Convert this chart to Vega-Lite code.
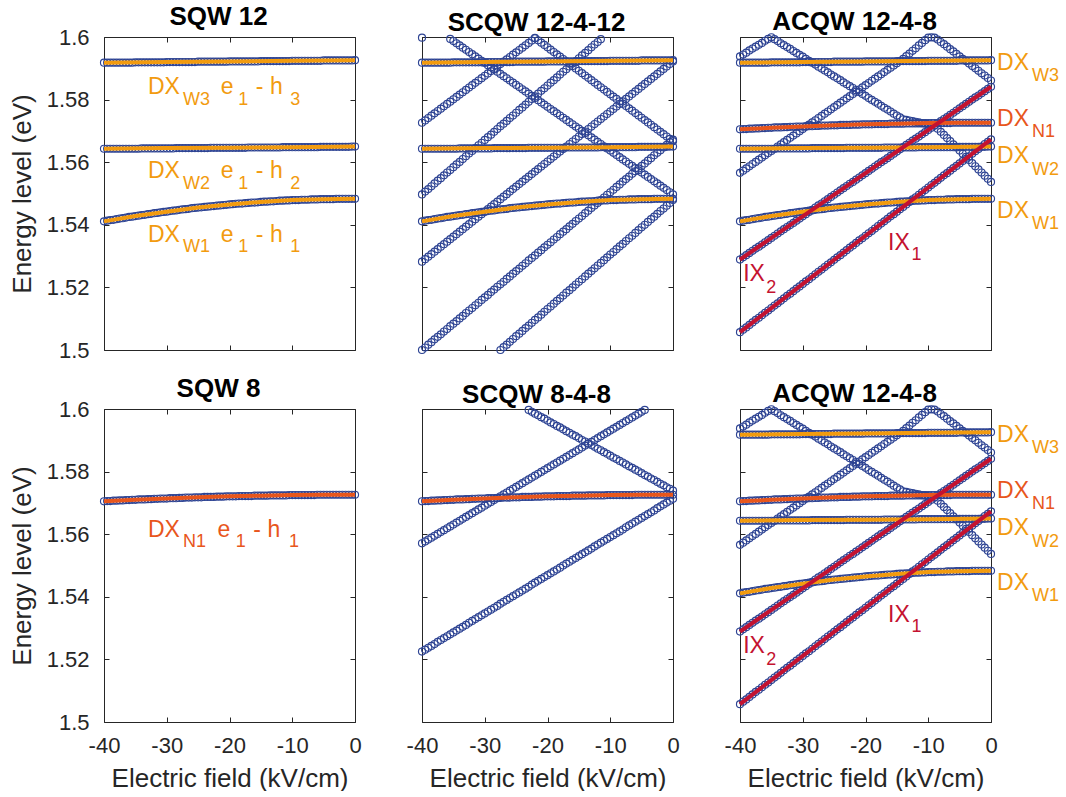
{
"$schema":"https://vega.github.io/schema/vega-lite/v6.json",
"padding":{"left":9,"top":4,"right":0,"bottom":0},
"usermeta":{"embedOptions":{"actions":false}},
"config":{
"view":{"stroke":null},
"font":"Liberation Sans",
"axis":{"domainColor":"#262626","domainWidth":1,"tickColor":"#262626","tickWidth":1,"tickSize":-5,"labelColor":"#262626","labelFont":"Liberation Sans","labelFontSize":22,"titleColor":"#262626","titleFont":"Liberation Sans","titleFontSize":26,"titleFontWeight":"normal","grid":false,"labelFlush":false,"labelOverlap":false},
"axisBottom":{"labelPadding":18,"titlePadding":9},
"axisLeft":{"labelPadding":20,"titlePadding":11},
"point":{"shape":"circle","filled":false,"size":50,"strokeWidth":1.15,"color":"#2D4393","opacity":1},
"title":{"font":"Liberation Sans","fontSize":26,"fontWeight":"bold","color":"#000000","offset":-4,"baseline":"alphabetic","anchor":"middle","frame":"group","dx":-11}
},
"datasets":{
"circ":[
{"g":"W","b":"W3","x":[-40,-39.5,-39,-38.5,-38,-37.5,-37,-36.5,-36,-35.5,-35,-34.5,-34,-33.5,-33,-32.5,-32,-31.5,-31,-30.5,-30,-29.5,-29,-28.5,-28,-27.5,-27,-26.5,-26,-25.5,-25,-24.5,-24,-23.5,-23,-22.5,-22,-21.5,-21,-20.5,-20,-19.5,-19,-18.5,-18,-17.5,-17,-16.5,-16,-15.5,-15,-14.5,-14,-13.5,-13,-12.5,-12,-11.5,-11,-10.5,-10,-9.5,-9,-8.5,-8,-7.5,-7,-6.5,-6,-5.5,-5,-4.5,-4,-3.5,-3,-2.5,-2,-1.5,-1,-0.5,0],
"y":[1.5918,1.5918,1.5918,1.5918,1.5918,1.5918,1.5918,1.5918,1.5918,1.5918,1.5919,1.5919,1.5919,1.5919,1.5919,1.5919,1.5919,1.5919,1.5919,1.5919,1.592,1.592,1.592,1.592,1.592,1.592,1.592,1.592,1.592,1.592,1.5921,1.5921,1.5921,1.5921,1.5921,1.5921,1.5921,1.5921,1.5921,1.5921,1.5922,1.5922,1.5922,1.5922,1.5922,1.5922,1.5922,1.5922,1.5922,1.5922,1.5923,1.5923,1.5923,1.5923,1.5923,1.5923,1.5923,1.5923,1.5923,1.5923,1.5924,1.5924,1.5924,1.5924,1.5924,1.5924,1.5924,1.5924,1.5924,1.5924,1.5925,1.5925,1.5925,1.5925,1.5925,1.5925,1.5925,1.5925,1.5925,1.5925,1.5926]},
{"g":"W","b":"W2","x":[-40,-39.5,-39,-38.5,-38,-37.5,-37,-36.5,-36,-35.5,-35,-34.5,-34,-33.5,-33,-32.5,-32,-31.5,-31,-30.5,-30,-29.5,-29,-28.5,-28,-27.5,-27,-26.5,-26,-25.5,-25,-24.5,-24,-23.5,-23,-22.5,-22,-21.5,-21,-20.5,-20,-19.5,-19,-18.5,-18,-17.5,-17,-16.5,-16,-15.5,-15,-14.5,-14,-13.5,-13,-12.5,-12,-11.5,-11,-10.5,-10,-9.5,-9,-8.5,-8,-7.5,-7,-6.5,-6,-5.5,-5,-4.5,-4,-3.5,-3,-2.5,-2,-1.5,-1,-0.5,0],
"y":[1.5643,1.5643,1.5643,1.5643,1.5643,1.5643,1.5643,1.5643,1.5643,1.5643,1.5643,1.5643,1.5644,1.5644,1.5644,1.5644,1.5644,1.5644,1.5644,1.5644,1.5644,1.5644,1.5644,1.5645,1.5645,1.5645,1.5645,1.5645,1.5645,1.5645,1.5645,1.5645,1.5645,1.5645,1.5646,1.5646,1.5646,1.5646,1.5646,1.5646,1.5646,1.5646,1.5646,1.5646,1.5646,1.5646,1.5647,1.5647,1.5647,1.5647,1.5647,1.5647,1.5647,1.5647,1.5647,1.5647,1.5647,1.5648,1.5648,1.5648,1.5648,1.5648,1.5648,1.5648,1.5648,1.5648,1.5648,1.5648,1.5648,1.5649,1.5649,1.5649,1.5649,1.5649,1.5649,1.5649,1.5649,1.5649,1.5649,1.565,1.565]},
{"g":"W","b":"W1","x":[-40,-39.5,-39,-38.5,-38,-37.5,-37,-36.5,-36,-35.5,-35,-34.5,-34,-33.5,-33,-32.5,-32,-31.5,-31,-30.5,-30,-29.5,-29,-28.5,-28,-27.5,-27,-26.5,-26,-25.5,-25,-24.5,-24,-23.5,-23,-22.5,-22,-21.5,-21,-20.5,-20,-19.5,-19,-18.5,-18,-17.5,-17,-16.5,-16,-15.5,-15,-14.5,-14,-13.5,-13,-12.5,-12,-11.5,-11,-10.5,-10,-9.5,-9,-8.5,-8,-7.5,-7,-6.5,-6,-5.5,-5,-4.5,-4,-3.5,-3,-2.5,-2,-1.5,-1,-0.5,0],
"y":[1.5411,1.5413,1.5415,1.5416,1.5418,1.542,1.5421,1.5423,1.5425,1.5426,1.5428,1.5429,1.5431,1.5432,1.5434,1.5435,1.5437,1.5438,1.544,1.5441,1.5442,1.5444,1.5445,1.5446,1.5448,1.5449,1.545,1.5451,1.5453,1.5454,1.5455,1.5456,1.5457,1.5458,1.5459,1.546,1.5461,1.5462,1.5463,1.5464,1.5465,1.5466,1.5467,1.5468,1.5468,1.5469,1.547,1.5471,1.5471,1.5472,1.5473,1.5474,1.5474,1.5475,1.5475,1.5476,1.5477,1.5477,1.5478,1.5478,1.5479,1.5479,1.5479,1.548,1.548,1.548,1.5481,1.5481,1.5481,1.5482,1.5482,1.5482,1.5482,1.5482,1.5483,1.5483,1.5483,1.5483,1.5483,1.5483,1.5483]},
{"g":"N","b":"N1","x":[-40,-39.5,-39,-38.5,-38,-37.5,-37,-36.5,-36,-35.5,-35,-34.5,-34,-33.5,-33,-32.5,-32,-31.5,-31,-30.5,-30,-29.5,-29,-28.5,-28,-27.5,-27,-26.5,-26,-25.5,-25,-24.5,-24,-23.5,-23,-22.5,-22,-21.5,-21,-20.5,-20,-19.5,-19,-18.5,-18,-17.5,-17,-16.5,-16,-15.5,-15,-14.5,-14,-13.5,-13,-12.5,-12,-11.5,-11,-10.5,-10,-9.5,-9,-8.5,-8,-7.5,-7,-6.5,-6,-5.5,-5,-4.5,-4,-3.5,-3,-2.5,-2,-1.5,-1,-0.5,0],
"y":[1.5705,1.5706,1.5706,1.5707,1.5707,1.5708,1.5708,1.5709,1.5709,1.571,1.571,1.5711,1.5711,1.5711,1.5712,1.5712,1.5713,1.5713,1.5714,1.5714,1.5714,1.5715,1.5715,1.5715,1.5716,1.5716,1.5717,1.5717,1.5717,1.5718,1.5718,1.5718,1.5719,1.5719,1.5719,1.5719,1.572,1.572,1.572,1.5721,1.5721,1.5721,1.5721,1.5722,1.5722,1.5722,1.5722,1.5722,1.5723,1.5723,1.5723,1.5723,1.5723,1.5724,1.5724,1.5724,1.5724,1.5724,1.5724,1.5725,1.5725,1.5725,1.5725,1.5725,1.5725,1.5725,1.5725,1.5725,1.5726,1.5726,1.5726,1.5726,1.5726,1.5726,1.5726,1.5726,1.5726,1.5726,1.5726,1.5726,1.5726]},
{"g":"S12","b":"a","x":[-40],"y":[1.5998]},
{"g":"S12","b":"b","x":[-35.5,-35,-34.5,-34,-33.5,-33,-32.5,-32,-31.5,-31,-30.5,-30,-29.5,-29,-28.5,-28,-27.5,-27,-26.5,-26,-25.5,-25,-24.5,-24,-23.5,-23,-22.5,-22,-21.5,-21,-20.5,-20,-19.5,-19,-18.5,-18,-17.5,-17,-16.5,-16,-15.5,-15,-14.5,-14,-13.5,-13,-12.5,-12,-11.5,-11,-10.5,-10,-9.5,-9,-8.5,-8,-7.5,-7,-6.5,-6,-5.5,-5,-4.5,-4,-3.5,-3,-2.5,-2,-1.5,-1,-0.5,0],
"y":[1.5994,1.5987,1.598,1.5973,1.5966,1.5959,1.5952,1.5945,1.5938,1.5931,1.5924,1.5917,1.591,1.5903,1.5896,1.5889,1.5882,1.5875,1.5868,1.5861,1.5854,1.5847,1.584,1.5833,1.5826,1.5819,1.5812,1.5805,1.5798,1.5791,1.5784,1.5777,1.577,1.5763,1.5756,1.5749,1.5742,1.5735,1.5728,1.5721,1.5714,1.5707,1.57,1.5693,1.5686,1.5679,1.5672,1.5665,1.5658,1.5651,1.5644,1.5637,1.563,1.5623,1.5616,1.5609,1.5602,1.5595,1.5588,1.5581,1.5574,1.5567,1.556,1.5553,1.5546,1.5539,1.5532,1.5525,1.5518,1.5511,1.5504,1.5497]},
{"g":"S12","b":"c","x":[-22,-21.5,-21,-20.5,-20,-19.5,-19,-18.5,-18,-17.5,-17,-16.5,-16,-15.5,-15,-14.5,-14,-13.5,-13,-12.5,-12,-11.5,-11,-10.5,-10,-9.5,-9,-8.5,-8,-7.5,-7,-6.5,-6,-5.5,-5,-4.5,-4,-3.5,-3,-2.5,-2,-1.5,-1,-0.5,0],
"y":[1.5997,1.59895,1.5982,1.59745,1.5967,1.59595,1.5952,1.59445,1.5937,1.59295,1.5922,1.59145,1.5907,1.58995,1.5892,1.58845,1.5877,1.58695,1.5862,1.58545,1.5847,1.58395,1.5832,1.58245,1.5817,1.58095,1.5802,1.57945,1.5787,1.57795,1.5772,1.57645,1.5757,1.57495,1.5742,1.57345,1.5727,1.57195,1.5712,1.57045,1.5697,1.56895,1.5682,1.56745,1.5667]},
{"g":"S12","b":"d","x":[-40,-39.5,-39,-38.5,-38,-37.5,-37,-36.5,-36,-35.5,-35,-34.5,-34,-33.5,-33,-32.5,-32,-31.5,-31,-30.5,-30,-29.5,-29,-28.5,-28,-27.5,-27,-26.5,-26,-25.5,-25,-24.5,-24,-23.5,-23,-22.5,-22],
"y":[1.5726,1.57335,1.5741,1.57485,1.5756,1.57635,1.5771,1.57785,1.5786,1.57935,1.5801,1.58085,1.5816,1.58235,1.5831,1.58385,1.5846,1.58535,1.5861,1.58685,1.5876,1.58835,1.5891,1.58985,1.5906,1.59135,1.5921,1.59285,1.5936,1.59435,1.5951,1.59585,1.5966,1.59735,1.5981,1.59885,1.5996]},
{"g":"S12","b":"e","x":[-40,-39.5,-39,-38.5,-38,-37.5,-37,-36.5,-36,-35.5,-35,-34.5,-34,-33.5,-33,-32.5,-32,-31.5,-31,-30.5,-30,-29.5,-29,-28.5,-28,-27.5,-27,-26.5,-26,-25.5,-25,-24.5,-24,-23.5,-23,-22.5,-22,-21.5,-21,-20.5,-20,-19.5,-19,-18.5,-18,-17.5,-17,-16.5,-16,-15.5,-15,-14.5,-14,-13.5,-13,-12.5,-12,-11.5],
"y":[1.5497,1.5506,1.5514,1.5523,1.5532,1.5541,1.5549,1.5558,1.5567,1.5575,1.5584,1.5593,1.5601,1.561,1.5619,1.5628,1.5636,1.5645,1.5654,1.5662,1.5671,1.568,1.5688,1.5697,1.5706,1.5715,1.5723,1.5732,1.5741,1.5749,1.5758,1.5767,1.5775,1.5784,1.5793,1.5802,1.581,1.5819,1.5828,1.5836,1.5845,1.5854,1.5862,1.5871,1.588,1.5889,1.5897,1.5906,1.5915,1.5923,1.5932,1.5941,1.5949,1.5958,1.5967,1.5976,1.5984,1.5993]},
{"g":"S12","b":"f","x":[-40,-39.5,-39,-38.5,-38,-37.5,-37,-36.5,-36,-35.5,-35,-34.5,-34,-33.5,-33,-32.5,-32,-31.5,-31,-30.5,-30,-29.5,-29,-28.5,-28,-27.5,-27,-26.5,-26,-25.5,-25,-24.5,-24,-23.5,-23,-22.5,-22,-21.5,-21,-20.5,-20,-19.5,-19,-18.5,-18,-17.5,-17,-16.5,-16,-15.5,-15,-14.5,-14,-13.5,-13,-12.5,-12,-11.5,-11,-10.5,-10,-9.5,-9,-8.5,-8,-7.5,-7,-6.5,-6,-5.5,-5,-4.5,-4,-3.5,-3,-2.5,-2,-1.5,-1,-0.5,0],
"y":[1.5282,1.529,1.5298,1.5306,1.5314,1.5322,1.533,1.5338,1.5346,1.5354,1.5362,1.537,1.5378,1.5386,1.5394,1.5402,1.541,1.5418,1.5426,1.5434,1.5442,1.545,1.5458,1.5466,1.5474,1.5482,1.549,1.5498,1.5506,1.5514,1.5522,1.553,1.5538,1.5546,1.5554,1.5562,1.557,1.5578,1.5586,1.5594,1.5602,1.561,1.5618,1.5626,1.5634,1.5642,1.565,1.5658,1.5666,1.5674,1.5682,1.569,1.5698,1.5706,1.5714,1.5722,1.573,1.5738,1.5746,1.5754,1.5762,1.577,1.5778,1.5786,1.5794,1.5802,1.581,1.5818,1.5826,1.5834,1.5842,1.585,1.5858,1.5866,1.5874,1.5882,1.589,1.5898,1.5906,1.5914,1.5922]},
{"g":"S12","b":"g","x":[-40,-39.5,-39,-38.5,-38,-37.5,-37,-36.5,-36,-35.5,-35,-34.5,-34,-33.5,-33,-32.5,-32,-31.5,-31,-30.5,-30,-29.5,-29,-28.5,-28,-27.5,-27,-26.5,-26,-25.5,-25,-24.5,-24,-23.5,-23,-22.5,-22,-21.5,-21,-20.5,-20,-19.5,-19,-18.5,-18,-17.5,-17,-16.5,-16,-15.5,-15,-14.5,-14,-13.5,-13,-12.5,-12,-11.5,-11,-10.5,-10,-9.5,-9,-8.5,-8,-7.5,-7,-6.5,-6,-5.5,-5,-4.5,-4,-3.5,-3,-2.5,-2,-1.5,-1,-0.5,0],
"y":[1.5,1.5008,1.5017,1.5025,1.5034,1.5042,1.505,1.5059,1.5067,1.5076,1.5084,1.5092,1.5101,1.5109,1.5118,1.5126,1.5134,1.5143,1.5151,1.516,1.5168,1.5176,1.5185,1.5193,1.5202,1.521,1.5218,1.5227,1.5235,1.5244,1.5252,1.526,1.5269,1.5277,1.5286,1.5294,1.5302,1.5311,1.5319,1.5328,1.5336,1.5344,1.5353,1.5361,1.537,1.5378,1.5386,1.5395,1.5403,1.5412,1.542,1.5428,1.5437,1.5445,1.5454,1.5462,1.547,1.5479,1.5487,1.5496,1.5504,1.5512,1.5521,1.5529,1.5538,1.5546,1.5554,1.5563,1.5571,1.558,1.5588,1.5596,1.5605,1.5613,1.5622,1.563,1.5638,1.5647,1.5655,1.5664,1.5672]},
{"g":"S12","b":"h","x":[-27.5,-27,-26.5,-26,-25.5,-25,-24.5,-24,-23.5,-23,-22.5,-22,-21.5,-21,-20.5,-20,-19.5,-19,-18.5,-18,-17.5,-17,-16.5,-16,-15.5,-15,-14.5,-14,-13.5,-13,-12.5,-12,-11.5,-11,-10.5,-10,-9.5,-9,-8.5,-8,-7.5,-7,-6.5,-6,-5.5,-5,-4.5,-4,-3.5,-3,-2.5,-2,-1.5,-1,-0.5,0],
"y":[1.5,1.5009,1.5017,1.5026,1.5035,1.5044,1.5052,1.5061,1.507,1.5078,1.5087,1.5096,1.5104,1.5113,1.5122,1.5131,1.5139,1.5148,1.5157,1.5165,1.5174,1.5183,1.5191,1.52,1.5209,1.5218,1.5226,1.5235,1.5244,1.5252,1.5261,1.527,1.5278,1.5287,1.5296,1.5305,1.5313,1.5322,1.5331,1.5339,1.5348,1.5357,1.5365,1.5374,1.5383,1.5392,1.54,1.5409,1.5418,1.5426,1.5435,1.5444,1.5452,1.5461,1.547,1.5479]},
{"g":"S8","b":"a","x":[-40,-39.5,-39,-38.5,-38,-37.5,-37,-36.5,-36,-35.5,-35,-34.5,-34,-33.5,-33,-32.5,-32,-31.5,-31,-30.5,-30,-29.5,-29,-28.5,-28,-27.5,-27,-26.5,-26,-25.5,-25,-24.5,-24,-23.5,-23,-22.5,-22,-21.5,-21,-20.5,-20,-19.5,-19,-18.5,-18,-17.5,-17,-16.5,-16,-15.5,-15,-14.5,-14,-13.5,-13,-12.5,-12,-11.5,-11,-10.5,-10,-9.5,-9,-8.5,-8,-7.5,-7,-6.5,-6,-5.5,-5,-4.5],
"y":[1.5571,1.5577,1.5583,1.5589,1.5595,1.5601,1.5607,1.5613,1.5619,1.5625,1.5631,1.5637,1.5643,1.5649,1.5655,1.5661,1.5667,1.5673,1.5679,1.5685,1.5691,1.5697,1.5703,1.5709,1.5715,1.5721,1.5727,1.5733,1.5739,1.5745,1.5751,1.5757,1.5763,1.5769,1.5775,1.5781,1.5787,1.5793,1.5799,1.5805,1.5811,1.5817,1.5823,1.5829,1.5835,1.5841,1.5847,1.5853,1.5859,1.5865,1.5871,1.5877,1.5883,1.5889,1.5895,1.5901,1.5907,1.5913,1.5919,1.5925,1.5931,1.5937,1.5943,1.5949,1.5955,1.5961,1.5967,1.5973,1.5979,1.5985,1.5991,1.5997]},
{"g":"S8","b":"b","x":[-23,-22.5,-22,-21.5,-21,-20.5,-20,-19.5,-19,-18.5,-18,-17.5,-17,-16.5,-16,-15.5,-15,-14.5,-14,-13.5,-13,-12.5,-12,-11.5,-11,-10.5,-10,-9.5,-9,-8.5,-8,-7.5,-7,-6.5,-6,-5.5,-5,-4.5,-4,-3.5,-3,-2.5,-2,-1.5,-1,-0.5,0],
"y":[1.5997,1.5991,1.5985,1.598,1.5974,1.5969,1.5963,1.5957,1.5952,1.5946,1.5941,1.5935,1.5929,1.5924,1.5918,1.5913,1.5907,1.5901,1.5896,1.589,1.5885,1.5879,1.5873,1.5868,1.5862,1.5857,1.5851,1.5845,1.584,1.5834,1.5829,1.5823,1.5817,1.5812,1.5806,1.5801,1.5795,1.5789,1.5784,1.5778,1.5773,1.5767,1.5761,1.5756,1.575,1.5745,1.5739]},
{"g":"S8","b":"c","x":[-40,-39.5,-39,-38.5,-38,-37.5,-37,-36.5,-36,-35.5,-35,-34.5,-34,-33.5,-33,-32.5,-32,-31.5,-31,-30.5,-30,-29.5,-29,-28.5,-28,-27.5,-27,-26.5,-26,-25.5,-25,-24.5,-24,-23.5,-23,-22.5,-22,-21.5,-21,-20.5,-20,-19.5,-19,-18.5,-18,-17.5,-17,-16.5,-16,-15.5,-15,-14.5,-14,-13.5,-13,-12.5,-12,-11.5,-11,-10.5,-10,-9.5,-9,-8.5,-8,-7.5,-7,-6.5,-6,-5.5,-5,-4.5,-4,-3.5,-3,-2.5,-2,-1.5,-1,-0.5,0],
"y":[1.5225,1.5231,1.5237,1.5243,1.5249,1.5256,1.5262,1.5268,1.5274,1.528,1.5286,1.5292,1.5298,1.5304,1.531,1.5317,1.5323,1.5329,1.5335,1.5341,1.5347,1.5353,1.5359,1.5365,1.5371,1.5378,1.5384,1.539,1.5396,1.5402,1.5408,1.5414,1.542,1.5426,1.5432,1.5439,1.5445,1.5451,1.5457,1.5463,1.5469,1.5475,1.5481,1.5487,1.5493,1.55,1.5506,1.5512,1.5518,1.5524,1.553,1.5536,1.5542,1.5548,1.5554,1.5561,1.5567,1.5573,1.5579,1.5585,1.5591,1.5597,1.5603,1.5609,1.5615,1.5622,1.5628,1.5634,1.564,1.5646,1.5652,1.5658,1.5664,1.567,1.5676,1.5683,1.5689,1.5695,1.5701,1.5707,1.5713]},
{"g":"A","b":"C1","x":[-40,-39.5,-39,-38.5,-38,-37.5,-37,-36.5,-36,-35.5,-35,-34.5,-34,-33.5,-33,-32.5,-32,-31.5,-31,-30.5,-30,-29.5,-29,-28.5,-28,-27.5,-27,-26.5,-26,-25.5,-25,-24.5,-24,-23.5,-23,-22.5,-22,-21.5,-21,-20.5,-20,-19.5,-19,-18.5,-18,-17.5,-17,-16.5,-16,-15.5,-15,-14.5,-14,-13.5,-13,-12.5,-12,-11.5,-11,-10.5,-10,-9.5,-9,-8.5,-8,-7.5,-7,-6.5,-6,-5.5,-5,-4.5,-4,-3.5,-3,-2.5,-2,-1.5,-1,-0.5,0],
"y":[1.5938,1.5944,1.595,1.5957,1.5963,1.5969,1.5975,1.5981,1.5988,1.5994,1.5999,1.5993,1.5987,1.598,1.5974,1.5968,1.5962,1.5955,1.5949,1.5943,1.5937,1.593,1.5924,1.5918,1.5912,1.5905,1.5899,1.5893,1.5887,1.588,1.5874,1.5868,1.5862,1.5855,1.5849,1.5843,1.5837,1.583,1.5824,1.5818,1.5812,1.5805,1.5799,1.5793,1.5787,1.578,1.5774,1.5768,1.5762,1.5755,1.5749,1.5743,1.5737,1.5735,1.5733,1.5731,1.5729,1.5727,1.5725,1.5723,1.5721,1.5719,1.5717,1.5707,1.5697,1.5687,1.5677,1.5667,1.5657,1.5647,1.5637,1.5627,1.5617,1.5607,1.5597,1.5587,1.5577,1.5567,1.5557,1.5547,1.5537]},
{"g":"A","b":"C2","x":[-40,-39.5,-39,-38.5,-38,-37.5,-37,-36.5,-36,-35.5,-35,-34.5,-34,-33.5,-33,-32.5,-32,-31.5,-31,-30.5,-30,-29.5,-29,-28.5,-28,-27.5,-27,-26.5,-26,-25.5,-25,-24.5,-24,-23.5,-23,-22.5,-22,-21.5,-21,-20.5,-20,-19.5,-19,-18.5,-18,-17.5,-17,-16.5,-16,-15.5,-15,-14.5,-14,-13.5,-13,-12.5,-12,-11.5,-11,-10.5,-10,-9.5,-9,-8.5,-8,-7.5,-7,-6.5,-6,-5.5,-5,-4.5,-4,-3.5,-3,-2.5,-2,-1.5,-1,-0.5,0],
"y":[1.5566,1.5573,1.558,1.5587,1.5594,1.5601,1.5608,1.5615,1.5622,1.5629,1.5636,1.5643,1.565,1.5657,1.5664,1.5671,1.5678,1.5685,1.5692,1.5699,1.5706,1.5713,1.572,1.5727,1.5734,1.5741,1.5748,1.5755,1.5762,1.5769,1.5776,1.5783,1.579,1.5797,1.5804,1.5811,1.5818,1.5825,1.5832,1.5839,1.5846,1.5853,1.586,1.5867,1.5874,1.5881,1.5888,1.5895,1.5902,1.5909,1.5916,1.5923,1.593,1.5939,1.5947,1.5956,1.5964,1.5973,1.5981,1.599,1.5998,1.5999,1.5998,1.5992,1.5984,1.5977,1.5969,1.5961,1.5954,1.5946,1.5938,1.593,1.5923,1.5915,1.5907,1.59,1.5892,1.5884,1.5877,1.5869,1.5861]},
{"g":"A","b":"IX2","x":[-40,-39.5,-39,-38.5,-38,-37.5,-37,-36.5,-36,-35.5,-35,-34.5,-34,-33.5,-33,-32.5,-32,-31.5,-31,-30.5,-30,-29.5,-29,-28.5,-28,-27.5,-27,-26.5,-26,-25.5,-25,-24.5,-24,-23.5,-23,-22.5,-22,-21.5,-21,-20.5,-20,-19.5,-19,-18.5,-18,-17.5,-17,-16.5,-16,-15.5,-15,-14.5,-14,-13.5,-13,-12.5,-12,-11.5,-11,-10.5,-10,-9.5,-9,-8.5,-8,-7.5,-7,-6.5,-6,-5.5,-5,-4.5,-4,-3.5,-3,-2.5,-2,-1.5,-1,-0.5,0],
"y":[1.5289,1.5296,1.5303,1.531,1.5317,1.5324,1.533,1.5337,1.5344,1.5351,1.5358,1.5365,1.5372,1.5379,1.5386,1.5393,1.5399,1.5406,1.5413,1.542,1.5427,1.5434,1.5441,1.5448,1.5455,1.5462,1.5468,1.5475,1.5482,1.5489,1.5496,1.5503,1.551,1.5517,1.5524,1.5531,1.5537,1.5544,1.5551,1.5558,1.5565,1.5572,1.5579,1.5586,1.5593,1.56,1.5606,1.5613,1.562,1.5627,1.5634,1.5641,1.5648,1.5655,1.5662,1.5669,1.5675,1.5682,1.5689,1.5696,1.5703,1.571,1.5717,1.5724,1.5731,1.5738,1.5744,1.5751,1.5758,1.5765,1.5772,1.5779,1.5786,1.5793,1.58,1.5807,1.5813,1.582,1.5827,1.5834,1.5841]},
{"g":"A","b":"IX1","x":[-40,-39.5,-39,-38.5,-38,-37.5,-37,-36.5,-36,-35.5,-35,-34.5,-34,-33.5,-33,-32.5,-32,-31.5,-31,-30.5,-30,-29.5,-29,-28.5,-28,-27.5,-27,-26.5,-26,-25.5,-25,-24.5,-24,-23.5,-23,-22.5,-22,-21.5,-21,-20.5,-20,-19.5,-19,-18.5,-18,-17.5,-17,-16.5,-16,-15.5,-15,-14.5,-14,-13.5,-13,-12.5,-12,-11.5,-11,-10.5,-10,-9.5,-9,-8.5,-8,-7.5,-7,-6.5,-6,-5.5,-5,-4.5,-4,-3.5,-3,-2.5,-2,-1.5,-1,-0.5,0],
"y":[1.5057,1.5065,1.5072,1.508,1.5088,1.5096,1.5103,1.5111,1.5119,1.5126,1.5134,1.5142,1.5149,1.5157,1.5165,1.5173,1.518,1.5188,1.5196,1.5203,1.5211,1.5219,1.5226,1.5234,1.5242,1.525,1.5257,1.5265,1.5273,1.528,1.5288,1.5296,1.5303,1.5311,1.5319,1.5327,1.5334,1.5342,1.535,1.5357,1.5365,1.5373,1.538,1.5388,1.5396,1.5404,1.5411,1.5419,1.5427,1.5434,1.5442,1.545,1.5457,1.5465,1.5473,1.5481,1.5488,1.5496,1.5504,1.5511,1.5519,1.5527,1.5534,1.5542,1.555,1.5558,1.5565,1.5573,1.5581,1.5588,1.5596,1.5604,1.5611,1.5619,1.5627,1.5635,1.5642,1.565,1.5658,1.5665,1.5673]}
],
"lines":[
{"g":"W","b":"W3","c":"W","x":[-40,-30,-20,-10,0],"y":[1.5918,1.592,1.5922,1.5924,1.5926]},
{"g":"W","b":"W2","c":"W","x":[-40,-30,-20,-10,0],"y":[1.5643,1.5645,1.5646,1.5648,1.565]},
{"g":"W","b":"W1","c":"W","x":[-40,-35,-30,-25,-20,-15,-10,-5,0],"y":[1.5411,1.5428,1.5442,1.5455,1.5465,1.5473,1.5479,1.5482,1.5483]},
{"g":"N","b":"N1","c":"N","x":[-40,-35,-30,-25,-20,-15,-10,-5,0],"y":[1.5705,1.571,1.5714,1.5718,1.5721,1.5723,1.5725,1.5726,1.5726]},
{"g":"IX","b":"IX2","c":"IX","x":[-40,0],"y":[1.5289,1.5841]},
{"g":"IX","b":"IX1","c":"IX","x":[-40,0],"y":[1.5057,1.5673]}
],
"labels":[
{"p":"1","r":"m","c":"W","t":"DX","x":-33,"y":1.5819},
{"p":"1","r":"s","c":"W","t":"W3","x":-27.4,"y":1.5784},
{"p":"1","r":"m","c":"W","t":"e","x":-21.4,"y":1.5819},
{"p":"1","r":"s","c":"W","t":"1","x":-18.6,"y":1.5784},
{"p":"1","r":"m","c":"W","t":"- h","x":-15.8,"y":1.5819},
{"p":"1","r":"s","c":"W","t":"3","x":-10.3,"y":1.5784},
{"p":"1","r":"m","c":"W","t":"DX","x":-33,"y":1.5549},
{"p":"1","r":"s","c":"W","t":"W2","x":-27.4,"y":1.5515},
{"p":"1","r":"m","c":"W","t":"e","x":-21.4,"y":1.5549},
{"p":"1","r":"s","c":"W","t":"1","x":-18.6,"y":1.5515},
{"p":"1","r":"m","c":"W","t":"- h","x":-15.8,"y":1.5549},
{"p":"1","r":"s","c":"W","t":"2","x":-10.3,"y":1.5515},
{"p":"1","r":"m","c":"W","t":"DX","x":-33,"y":1.5346},
{"p":"1","r":"s","c":"W","t":"W1","x":-27.4,"y":1.5312},
{"p":"1","r":"m","c":"W","t":"e","x":-21.4,"y":1.5346},
{"p":"1","r":"s","c":"W","t":"1","x":-18.6,"y":1.5312},
{"p":"1","r":"m","c":"W","t":"- h","x":-15.8,"y":1.5346},
{"p":"1","r":"s","c":"W","t":"1","x":-10.3,"y":1.5312},
{"p":"4","r":"m","c":"N","t":"DX","x":-33,"y":1.5592},
{"p":"4","r":"s","c":"N","t":"N1","x":-27.4,"y":1.5558},
{"p":"4","r":"m","c":"N","t":"e","x":-21.9,"y":1.5592},
{"p":"4","r":"s","c":"N","t":"1","x":-19,"y":1.5558},
{"p":"4","r":"m","c":"N","t":"- h","x":-16.2,"y":1.5592},
{"p":"4","r":"s","c":"N","t":"1","x":-10.5,"y":1.5558},
{"p":"A","r":"m","c":"W","t":"DX","x":0.96,"y":1.5895},
{"p":"A","r":"s","c":"W","t":"W3","x":6.53,"y":1.5858},
{"p":"A","r":"m","c":"N","t":"DX","x":0.96,"y":1.5716},
{"p":"A","r":"s","c":"N","t":"N1","x":6.53,"y":1.568},
{"p":"A","r":"m","c":"W","t":"DX","x":0.96,"y":1.5597},
{"p":"A","r":"s","c":"W","t":"W2","x":6.53,"y":1.556},
{"p":"A","r":"m","c":"W","t":"DX","x":0.96,"y":1.5422},
{"p":"A","r":"s","c":"W","t":"W1","x":6.53,"y":1.5385},
{"p":"A","r":"m","c":"IX","t":"IX","x":-16.4,"y":1.5321},
{"p":"A","r":"s","c":"IX","t":"1","x":-12.65,"y":1.5287},
{"p":"A","r":"m","c":"IX","t":"IX","x":-39.5,"y":1.522},
{"p":"A","r":"s","c":"IX","t":"2","x":-35.8,"y":1.5183}
]
},
"vconcat":[
{"hconcat":[
{"width":251,"height":313,"title":{"text":"SQW 12"},"layer":[
{"data":{"name":"circ"},"transform":[{"filter":{"field":"g","oneOf":["W"]}},{"flatten":["x","y"]}],"mark":{"type":"point"},"encoding":{"x":{"field":"x","type":"quantitative","scale":{"domain":[-40,0],"nice":false,"zero":false},"axis":{"orient":"bottom","values":[-40,-30,-20,-10,0],"labels":false,"title":null}},"y":{"field":"y","type":"quantitative","scale":{"domain":[1.5,1.6],"nice":false,"zero":false},"axis":{"orient":"left","values":[1.5,1.52,1.54,1.56,1.58,1.6],"labelExpr":"datum.value + ''","title":"Energy level (eV)"}}}},
{"data":{"name":"lines"},"transform":[{"filter":{"field":"g","oneOf":["W"]}},{"flatten":["x","y"]}],"mark":{"type":"line","strokeWidth":4},"encoding":{"x":{"field":"x","type":"quantitative","scale":{"domain":[-40,0],"nice":false,"zero":false},"axis":{"orient":"top","values":[-40,-30,-20,-10,0],"labels":false,"title":null}},"y":{"field":"y","type":"quantitative","scale":{"domain":[1.5,1.6],"nice":false,"zero":false},"axis":{"orient":"right","values":[1.5,1.52,1.54,1.56,1.58,1.6],"labels":false,"title":null}},"detail":{"field":"b"},"color":{"field":"c","type":"nominal","scale":{"domain":["W","N","IX"],"range":["#F29B0F","#E8561C","#C41230"]},"legend":null}}},
{"data":{"name":"labels"},"transform":[{"filter":"datum.p === '1' && datum.r === 'm'"}],"mark":{"type":"text","align":"left","baseline":"alphabetic","font":"Liberation Sans","fontSize":23},"encoding":{"x":{"field":"x","type":"quantitative","scale":{"domain":[-40,0],"nice":false,"zero":false},"axis":null},"y":{"field":"y","type":"quantitative","scale":{"domain":[1.5,1.6],"nice":false,"zero":false},"axis":null},"text":{"field":"t"},"color":{"field":"c","type":"nominal","scale":{"domain":["W","N","IX"],"range":["#F29B0F","#E8561C","#C41230"]},"legend":null}}},
{"data":{"name":"labels"},"transform":[{"filter":"datum.p === '1' && datum.r === 's'"}],"mark":{"type":"text","align":"left","baseline":"alphabetic","font":"Liberation Sans","fontSize":18},"encoding":{"x":{"field":"x","type":"quantitative","scale":{"domain":[-40,0],"nice":false,"zero":false},"axis":null},"y":{"field":"y","type":"quantitative","scale":{"domain":[1.5,1.6],"nice":false,"zero":false},"axis":null},"text":{"field":"t"},"color":{"field":"c","type":"nominal","scale":{"domain":["W","N","IX"],"range":["#F29B0F","#E8561C","#C41230"]},"legend":null}}}
],"resolve":{"axis":{"x":"independent","y":"independent"}}},
{"width":251,"height":313,"title":{"text":"SCQW 12-4-12"},"layer":[
{"data":{"name":"circ"},"transform":[{"filter":{"field":"g","oneOf":["W","S12"]}},{"flatten":["x","y"]}],"mark":{"type":"point"},"encoding":{"x":{"field":"x","type":"quantitative","scale":{"domain":[-40,0],"nice":false,"zero":false},"axis":{"orient":"bottom","values":[-40,-30,-20,-10,0],"labels":false,"title":null}},"y":{"field":"y","type":"quantitative","scale":{"domain":[1.5,1.6],"nice":false,"zero":false},"axis":{"orient":"left","values":[1.5,1.52,1.54,1.56,1.58,1.6],"labels":false,"title":null}}}},
{"data":{"name":"lines"},"transform":[{"filter":{"field":"g","oneOf":["W"]}},{"flatten":["x","y"]}],"mark":{"type":"line","strokeWidth":4},"encoding":{"x":{"field":"x","type":"quantitative","scale":{"domain":[-40,0],"nice":false,"zero":false},"axis":{"orient":"top","values":[-40,-30,-20,-10,0],"labels":false,"title":null}},"y":{"field":"y","type":"quantitative","scale":{"domain":[1.5,1.6],"nice":false,"zero":false},"axis":{"orient":"right","values":[1.5,1.52,1.54,1.56,1.58,1.6],"labels":false,"title":null}},"detail":{"field":"b"},"color":{"field":"c","type":"nominal","scale":{"domain":["W","N","IX"],"range":["#F29B0F","#E8561C","#C41230"]},"legend":null}}}
],"resolve":{"axis":{"x":"independent","y":"independent"}}},
{"width":251,"height":313,"title":{"text":"ACQW 12-4-8"},"layer":[
{"data":{"name":"circ"},"transform":[{"filter":{"field":"g","oneOf":["W","N","A"]}},{"flatten":["x","y"]}],"mark":{"type":"point"},"encoding":{"x":{"field":"x","type":"quantitative","scale":{"domain":[-40,0],"nice":false,"zero":false},"axis":{"orient":"bottom","values":[-40,-30,-20,-10,0],"labels":false,"title":null}},"y":{"field":"y","type":"quantitative","scale":{"domain":[1.5,1.6],"nice":false,"zero":false},"axis":{"orient":"left","values":[1.5,1.52,1.54,1.56,1.58,1.6],"labels":false,"title":null}}}},
{"data":{"name":"lines"},"transform":[{"filter":{"field":"g","oneOf":["W","N"]}},{"flatten":["x","y"]}],"mark":{"type":"line","strokeWidth":4},"encoding":{"x":{"field":"x","type":"quantitative","scale":{"domain":[-40,0],"nice":false,"zero":false},"axis":{"orient":"top","values":[-40,-30,-20,-10,0],"labels":false,"title":null}},"y":{"field":"y","type":"quantitative","scale":{"domain":[1.5,1.6],"nice":false,"zero":false},"axis":{"orient":"right","values":[1.5,1.52,1.54,1.56,1.58,1.6],"labels":false,"title":null}},"detail":{"field":"b"},"color":{"field":"c","type":"nominal","scale":{"domain":["W","N","IX"],"range":["#F29B0F","#E8561C","#C41230"]},"legend":null}}},
{"data":{"name":"lines"},"transform":[{"filter":{"field":"g","oneOf":["IX"]}},{"flatten":["x","y"]}],"mark":{"type":"line","strokeWidth":4},"encoding":{"x":{"field":"x","type":"quantitative","scale":{"domain":[-40,0],"nice":false,"zero":false},"axis":null},"y":{"field":"y","type":"quantitative","scale":{"domain":[1.5,1.6],"nice":false,"zero":false},"axis":null},"detail":{"field":"b"},"color":{"field":"c","type":"nominal","scale":{"domain":["W","N","IX"],"range":["#F29B0F","#E8561C","#C41230"]},"legend":null}}},
{"data":{"name":"labels"},"transform":[{"filter":"datum.p === 'A' && datum.r === 'm'"}],"mark":{"type":"text","align":"left","baseline":"alphabetic","font":"Liberation Sans","fontSize":23},"encoding":{"x":{"field":"x","type":"quantitative","scale":{"domain":[-40,0],"nice":false,"zero":false},"axis":null},"y":{"field":"y","type":"quantitative","scale":{"domain":[1.5,1.6],"nice":false,"zero":false},"axis":null},"text":{"field":"t"},"color":{"field":"c","type":"nominal","scale":{"domain":["W","N","IX"],"range":["#F29B0F","#E8561C","#C41230"]},"legend":null}}},
{"data":{"name":"labels"},"transform":[{"filter":"datum.p === 'A' && datum.r === 's'"}],"mark":{"type":"text","align":"left","baseline":"alphabetic","font":"Liberation Sans","fontSize":18},"encoding":{"x":{"field":"x","type":"quantitative","scale":{"domain":[-40,0],"nice":false,"zero":false},"axis":null},"y":{"field":"y","type":"quantitative","scale":{"domain":[1.5,1.6],"nice":false,"zero":false},"axis":null},"text":{"field":"t"},"color":{"field":"c","type":"nominal","scale":{"domain":["W","N","IX"],"range":["#F29B0F","#E8561C","#C41230"]},"legend":null}}}
],"resolve":{"axis":{"x":"independent","y":"independent"}}}
],"spacing":67,"bounds":"flush"},
{"hconcat":[
{"width":251,"height":313,"title":{"text":"SQW 8"},"layer":[
{"data":{"name":"circ"},"transform":[{"filter":{"field":"g","oneOf":["N"]}},{"flatten":["x","y"]}],"mark":{"type":"point"},"encoding":{"x":{"field":"x","type":"quantitative","scale":{"domain":[-40,0],"nice":false,"zero":false},"axis":{"orient":"bottom","values":[-40,-30,-20,-10,0],"labelExpr":"datum.value + ''","title":"Electric field (kV/cm)"}},"y":{"field":"y","type":"quantitative","scale":{"domain":[1.5,1.6],"nice":false,"zero":false},"axis":{"orient":"left","values":[1.5,1.52,1.54,1.56,1.58,1.6],"labelExpr":"datum.value + ''","title":"Energy level (eV)"}}}},
{"data":{"name":"lines"},"transform":[{"filter":{"field":"g","oneOf":["N"]}},{"flatten":["x","y"]}],"mark":{"type":"line","strokeWidth":4},"encoding":{"x":{"field":"x","type":"quantitative","scale":{"domain":[-40,0],"nice":false,"zero":false},"axis":{"orient":"top","values":[-40,-30,-20,-10,0],"labels":false,"title":null}},"y":{"field":"y","type":"quantitative","scale":{"domain":[1.5,1.6],"nice":false,"zero":false},"axis":{"orient":"right","values":[1.5,1.52,1.54,1.56,1.58,1.6],"labels":false,"title":null}},"detail":{"field":"b"},"color":{"field":"c","type":"nominal","scale":{"domain":["W","N","IX"],"range":["#F29B0F","#E8561C","#C41230"]},"legend":null}}},
{"data":{"name":"labels"},"transform":[{"filter":"datum.p === '4' && datum.r === 'm'"}],"mark":{"type":"text","align":"left","baseline":"alphabetic","font":"Liberation Sans","fontSize":23},"encoding":{"x":{"field":"x","type":"quantitative","scale":{"domain":[-40,0],"nice":false,"zero":false},"axis":null},"y":{"field":"y","type":"quantitative","scale":{"domain":[1.5,1.6],"nice":false,"zero":false},"axis":null},"text":{"field":"t"},"color":{"field":"c","type":"nominal","scale":{"domain":["W","N","IX"],"range":["#F29B0F","#E8561C","#C41230"]},"legend":null}}},
{"data":{"name":"labels"},"transform":[{"filter":"datum.p === '4' && datum.r === 's'"}],"mark":{"type":"text","align":"left","baseline":"alphabetic","font":"Liberation Sans","fontSize":18},"encoding":{"x":{"field":"x","type":"quantitative","scale":{"domain":[-40,0],"nice":false,"zero":false},"axis":null},"y":{"field":"y","type":"quantitative","scale":{"domain":[1.5,1.6],"nice":false,"zero":false},"axis":null},"text":{"field":"t"},"color":{"field":"c","type":"nominal","scale":{"domain":["W","N","IX"],"range":["#F29B0F","#E8561C","#C41230"]},"legend":null}}}
],"resolve":{"axis":{"x":"independent","y":"independent"}}},
{"width":251,"height":313,"title":{"text":"SCQW 8-4-8"},"layer":[
{"data":{"name":"circ"},"transform":[{"filter":{"field":"g","oneOf":["N","S8"]}},{"flatten":["x","y"]}],"mark":{"type":"point"},"encoding":{"x":{"field":"x","type":"quantitative","scale":{"domain":[-40,0],"nice":false,"zero":false},"axis":{"orient":"bottom","values":[-40,-30,-20,-10,0],"labelExpr":"datum.value + ''","title":"Electric field (kV/cm)"}},"y":{"field":"y","type":"quantitative","scale":{"domain":[1.5,1.6],"nice":false,"zero":false},"axis":{"orient":"left","values":[1.5,1.52,1.54,1.56,1.58,1.6],"labels":false,"title":null}}}},
{"data":{"name":"lines"},"transform":[{"filter":{"field":"g","oneOf":["N"]}},{"flatten":["x","y"]}],"mark":{"type":"line","strokeWidth":4},"encoding":{"x":{"field":"x","type":"quantitative","scale":{"domain":[-40,0],"nice":false,"zero":false},"axis":{"orient":"top","values":[-40,-30,-20,-10,0],"labels":false,"title":null}},"y":{"field":"y","type":"quantitative","scale":{"domain":[1.5,1.6],"nice":false,"zero":false},"axis":{"orient":"right","values":[1.5,1.52,1.54,1.56,1.58,1.6],"labels":false,"title":null}},"detail":{"field":"b"},"color":{"field":"c","type":"nominal","scale":{"domain":["W","N","IX"],"range":["#F29B0F","#E8561C","#C41230"]},"legend":null}}}
],"resolve":{"axis":{"x":"independent","y":"independent"}}},
{"width":251,"height":313,"title":{"text":"ACQW 12-4-8"},"layer":[
{"data":{"name":"circ"},"transform":[{"filter":{"field":"g","oneOf":["W","N","A"]}},{"flatten":["x","y"]}],"mark":{"type":"point"},"encoding":{"x":{"field":"x","type":"quantitative","scale":{"domain":[-40,0],"nice":false,"zero":false},"axis":{"orient":"bottom","values":[-40,-30,-20,-10,0],"labelExpr":"datum.value + ''","title":"Electric field (kV/cm)"}},"y":{"field":"y","type":"quantitative","scale":{"domain":[1.5,1.6],"nice":false,"zero":false},"axis":{"orient":"left","values":[1.5,1.52,1.54,1.56,1.58,1.6],"labels":false,"title":null}}}},
{"data":{"name":"lines"},"transform":[{"filter":{"field":"g","oneOf":["W","N"]}},{"flatten":["x","y"]}],"mark":{"type":"line","strokeWidth":4},"encoding":{"x":{"field":"x","type":"quantitative","scale":{"domain":[-40,0],"nice":false,"zero":false},"axis":{"orient":"top","values":[-40,-30,-20,-10,0],"labels":false,"title":null}},"y":{"field":"y","type":"quantitative","scale":{"domain":[1.5,1.6],"nice":false,"zero":false},"axis":{"orient":"right","values":[1.5,1.52,1.54,1.56,1.58,1.6],"labels":false,"title":null}},"detail":{"field":"b"},"color":{"field":"c","type":"nominal","scale":{"domain":["W","N","IX"],"range":["#F29B0F","#E8561C","#C41230"]},"legend":null}}},
{"data":{"name":"lines"},"transform":[{"filter":{"field":"g","oneOf":["IX"]}},{"flatten":["x","y"]}],"mark":{"type":"line","strokeWidth":4},"encoding":{"x":{"field":"x","type":"quantitative","scale":{"domain":[-40,0],"nice":false,"zero":false},"axis":null},"y":{"field":"y","type":"quantitative","scale":{"domain":[1.5,1.6],"nice":false,"zero":false},"axis":null},"detail":{"field":"b"},"color":{"field":"c","type":"nominal","scale":{"domain":["W","N","IX"],"range":["#F29B0F","#E8561C","#C41230"]},"legend":null}}},
{"data":{"name":"labels"},"transform":[{"filter":"datum.p === 'A' && datum.r === 'm'"}],"mark":{"type":"text","align":"left","baseline":"alphabetic","font":"Liberation Sans","fontSize":23},"encoding":{"x":{"field":"x","type":"quantitative","scale":{"domain":[-40,0],"nice":false,"zero":false},"axis":null},"y":{"field":"y","type":"quantitative","scale":{"domain":[1.5,1.6],"nice":false,"zero":false},"axis":null},"text":{"field":"t"},"color":{"field":"c","type":"nominal","scale":{"domain":["W","N","IX"],"range":["#F29B0F","#E8561C","#C41230"]},"legend":null}}},
{"data":{"name":"labels"},"transform":[{"filter":"datum.p === 'A' && datum.r === 's'"}],"mark":{"type":"text","align":"left","baseline":"alphabetic","font":"Liberation Sans","fontSize":18},"encoding":{"x":{"field":"x","type":"quantitative","scale":{"domain":[-40,0],"nice":false,"zero":false},"axis":null},"y":{"field":"y","type":"quantitative","scale":{"domain":[1.5,1.6],"nice":false,"zero":false},"axis":null},"text":{"field":"t"},"color":{"field":"c","type":"nominal","scale":{"domain":["W","N","IX"],"range":["#F29B0F","#E8561C","#C41230"]},"legend":null}}}
],"resolve":{"axis":{"x":"independent","y":"independent"}}}
],"spacing":67,"bounds":"flush"}
],
"spacing":15
}
